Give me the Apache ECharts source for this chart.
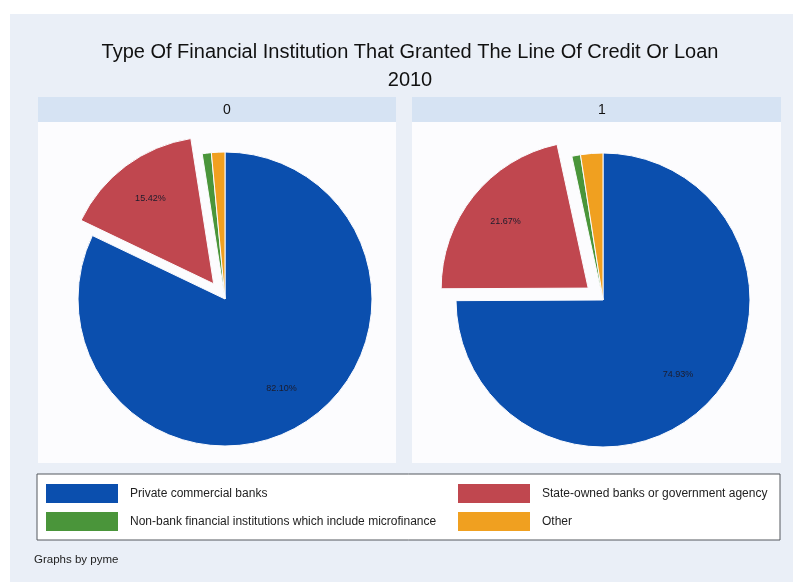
<!DOCTYPE html>
<html>
<head>
<meta charset="utf-8">
<style>
  html, body { margin: 0; padding: 0; background: #ffffff; }
  #chart { width: 793px; height: 582px; }
</style>
<script src="https://cdn.jsdelivr.net/npm/echarts@6/dist/echarts.min.js"></script>
</head>
<body>
<div id="chart"></div>
<script>
// Institution types, in slice order (clockwise from 12 o'clock)
const categories = [
  'Private commercial banks',
  'State-owned banks or government agency',
  'Non-bank financial institutions which include microfinance',
  'Other'
];
// Share of credit lines / loans (%) by pyme group
const groupLabels = ['0', '1'];
const sharesPyme0 = [82.10, 15.42, 1.00, 1.48];
const sharesPyme1 = [74.93, 21.67, 0.95, 2.45];
// Slice pulled out of each pie
const explodedCategory = 'State-owned banks or government agency';

const sliceColors = ['#0b4fae', '#c0474f', '#4a953a', '#f0a020'];
const FONT = 'Liberation Sans, Arial, sans-serif';

const chart = echarts.init(document.getElementById('chart'), null, { renderer: 'canvas' });

const pieCenters = [[225, 299], [603, 300]];
const pieRadius = 147;
const seriesValues = [sharesPyme0, sharesPyme1];

const series = [];
seriesValues.forEach((vals, g) => {
  // filled pie
  series.push({
    type: 'pie',
    center: pieCenters[g],
    radius: [0, pieRadius],
    startAngle: 90,
    clockwise: true,
    selectedMode: 'multiple',
    selectedOffset: 19,
    animation: false,
    silent: true,
    label: { show: false },
    labelLine: { show: false },
    itemStyle: { borderColor: '#fcfcfe', borderWidth: 1 },
    data: categories.map((name, i) => ({
      name: name,
      value: vals[i],
      selected: name === explodedCategory,
      itemStyle: { color: sliceColors[i] }
    }))
  });
  // percentage labels for the two large slices, placed at ~0.7 of the radius
  series.push({
    type: 'pie',
    center: pieCenters[g],
    radius: [pieRadius * 0.4, pieRadius],
    startAngle: 90,
    clockwise: true,
    selectedMode: 'multiple',
    selectedOffset: 19,
    animation: false,
    silent: true,
    itemStyle: { color: 'rgba(0,0,0,0)', borderWidth: 0 },
    labelLine: { show: false },
    label: {
      show: true,
      position: 'inside',
      fontFamily: FONT,
      fontSize: 9,
      color: '#1c1c2c',
      formatter: p => (p.value >= 5 ? p.value.toFixed(2) + '%' : '')
    },
    data: categories.map((name, i) => ({
      name: name,
      value: vals[i],
      selected: name === explodedCategory
    }))
  });
});

const legendText = { fontFamily: FONT, fontSize: 12, color: '#222', padding: [0, 0, 0, 7] };
const legendCommon = {
  orient: 'vertical', top: 484, itemGap: 9, padding: 0,
  itemWidth: 72, itemHeight: 19, icon: 'rect',
  itemStyle: { borderWidth: 0 },
  selectedMode: false, textStyle: legendText
};

const option = {
  backgroundColor: '#ffffff',
  color: sliceColors,
  graphic: [
    { type: 'rect', silent: true, z: -10, shape: { x: 10, y: 14, width: 783, height: 568 }, style: { fill: '#eaeff7' } },
    { type: 'rect', silent: true, z: -9, shape: { x: 38, y: 97, width: 358, height: 25 }, style: { fill: '#d6e3f3' } },
    { type: 'rect', silent: true, z: -9, shape: { x: 412, y: 97, width: 369, height: 25 }, style: { fill: '#d6e3f3' } },
    { type: 'rect', silent: true, z: -9, shape: { x: 38, y: 122, width: 358, height: 341 }, style: { fill: '#fcfcfe' } },
    { type: 'rect', silent: true, z: -9, shape: { x: 412, y: 122, width: 369, height: 341 }, style: { fill: '#fcfcfe' } },
    { type: 'rect', silent: true, z: -9, shape: { x: 37, y: 474, width: 743, height: 66 }, style: { fill: '#ffffff', stroke: '#55585e', lineWidth: 1 } }
  ],
  title: [
    {
      text: 'Type Of Financial Institution That Granted The Line Of Credit Or Loan\n2010',
      left: 405, top: 33, textAlign: 'center',
      textStyle: { fontFamily: FONT, fontSize: 20, fontWeight: 'normal', color: '#111', lineHeight: 28 }
    },
    {
      text: groupLabels[0], left: 222, top: 98, textAlign: 'center',
      textStyle: { fontFamily: FONT, fontSize: 14, fontWeight: 'normal', color: '#111' }
    },
    {
      text: groupLabels[1], left: 597, top: 98, textAlign: 'center',
      textStyle: { fontFamily: FONT, fontSize: 14, fontWeight: 'normal', color: '#111' }
    },
    {
      text: 'Graphs by pyme', left: 29, top: 549,
      textStyle: { fontFamily: FONT, fontSize: 11.5, fontWeight: 'normal', color: '#222' }
    }
  ],
  legend: [
    Object.assign({ left: 46, data: [categories[0], categories[2]] }, legendCommon),
    Object.assign({ left: 458, data: [categories[1], categories[3]] }, legendCommon)
  ],
  series: series
};

chart.setOption(option);
</script>
</body>
</html>
